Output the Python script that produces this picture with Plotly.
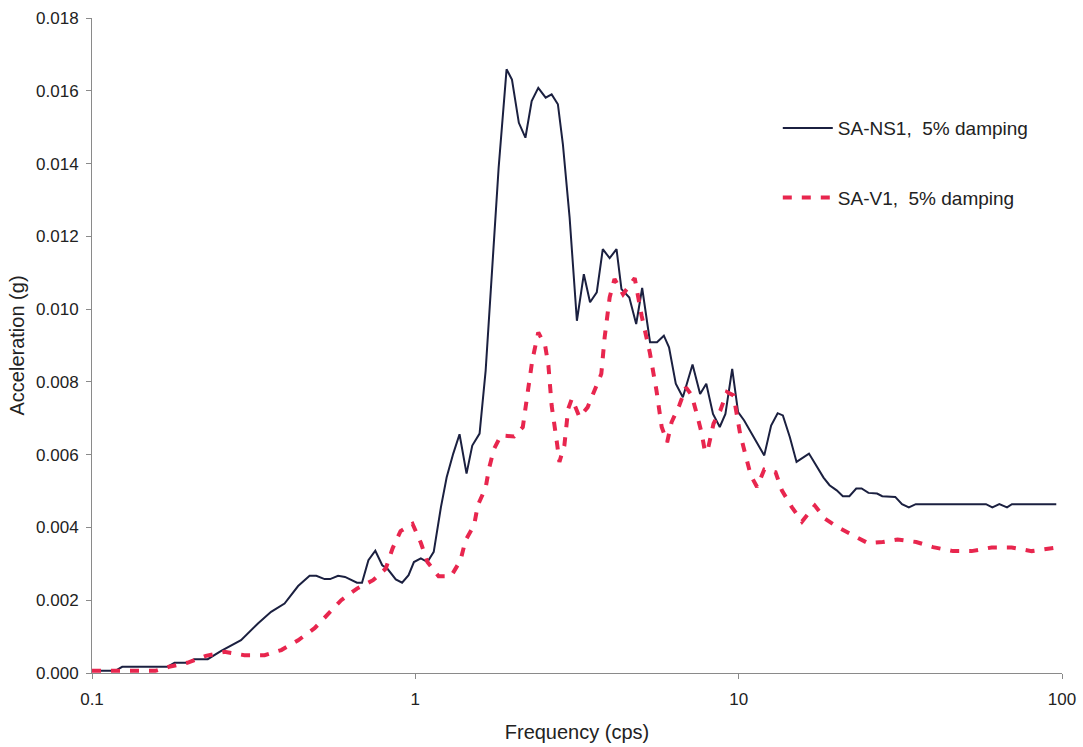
import plotly.graph_objects as go

# SA-NS1, 5% damping
ns_freq = [0.1, 0.118, 0.124, 0.171, 0.18, 0.197, 0.207, 0.228, 0.251, 0.289,
           0.326, 0.358, 0.394, 0.434, 0.471, 0.494, 0.524, 0.545, 0.577, 0.606,
           0.66, 0.684, 0.716, 0.752, 0.79, 0.819, 0.87, 0.91, 0.953, 0.99,
           1.04, 1.09, 1.14, 1.2, 1.25, 1.31, 1.37, 1.44, 1.5, 1.58,
           1.65, 1.73, 1.81, 1.915, 1.99, 2.09, 2.19, 2.29, 2.40, 2.53,
           2.64, 2.76, 2.86, 3.0, 3.16, 3.32, 3.47, 3.64, 3.8, 3.99,
           4.19, 4.34, 4.59, 4.82, 5.03, 5.32, 5.59, 5.87, 6.09, 6.39,
           6.72, 7.2, 7.6, 7.94, 8.33, 8.74, 9.1, 9.55, 9.96, 10.4,
           11.4, 12.0, 12.6, 13.2, 13.7, 14.4, 15.1, 16.5, 18.3, 19.1,
           20.1, 21.0, 22.0, 23.1, 24.0, 25.2, 26.8, 27.8, 30.5, 32.0,
           33.6, 35.3, 58.2, 60.9, 64.0, 67.6, 70.0, 96.0]
ns_acc = [0.00006, 0.00006, 0.00017, 0.00017, 0.00028, 0.00028, 0.00038, 0.00038, 0.00061, 0.0009,
          0.00136, 0.00168, 0.00191, 0.00239, 0.00267, 0.00267, 0.00258, 0.00258, 0.00267, 0.00264,
          0.00248, 0.00248, 0.0031, 0.00336, 0.00296, 0.00287, 0.00257, 0.00248, 0.00269, 0.00305,
          0.00315, 0.00305, 0.00333, 0.00456, 0.00538, 0.00603, 0.00656, 0.00548, 0.00625, 0.00658,
          0.00831, 0.01114, 0.01389, 0.01659, 0.01631, 0.01512, 0.01471, 0.01572, 0.01608, 0.01581,
          0.0159, 0.01563, 0.01453, 0.01252, 0.00968, 0.01096, 0.01019, 0.01046, 0.01165, 0.0114,
          0.01165, 0.01055, 0.01032, 0.00959, 0.01058, 0.00909, 0.00909, 0.00927, 0.00895, 0.00795,
          0.00758, 0.00848, 0.00767, 0.00795, 0.00712, 0.00676, 0.00712, 0.00836, 0.00717, 0.00694,
          0.00634, 0.00598, 0.0068, 0.00714, 0.00708, 0.00648, 0.0058, 0.00603, 0.00537, 0.00516,
          0.00502, 0.00486, 0.00486, 0.00507, 0.00507, 0.00495, 0.00493, 0.00486, 0.00484, 0.00464,
          0.00455, 0.00464, 0.00464, 0.00455, 0.00464, 0.00455, 0.00464, 0.00464]

# SA-V1, 5% damping
v_freq = [0.1, 0.117, 0.157, 0.173, 0.197, 0.225, 0.257, 0.296, 0.342, 0.385,
          0.434, 0.488, 0.531, 0.59, 0.66, 0.74, 0.81, 0.85, 0.90, 0.98,
          1.04, 1.09, 1.18, 1.29, 1.38, 1.43, 1.52, 1.56, 1.65, 1.69,
          1.75, 1.84, 2.02, 2.15, 2.23, 2.30, 2.40, 2.52, 2.58, 2.64,
          2.74, 2.79, 2.89, 2.97, 3.05, 3.22, 3.41, 3.54, 3.76, 3.85,
          3.99, 4.13, 4.39, 4.77, 5.01, 5.31, 5.57, 5.78, 6.01, 6.20,
          6.55, 6.87, 7.16, 7.42, 7.69, 7.87, 8.06, 8.36, 8.77, 9.2,
          9.64, 10.1, 10.5, 10.9, 11.4, 12.0, 13.0, 13.6, 14.6, 15.7,
          17.2, 18.5, 20.4, 22.8, 25.1, 27.9, 31.0, 35.4, 39.9, 46.0,
          52.5, 60.6, 69.9, 80.6, 96.0]
v_acc = [0.00006, 0.00006, 0.00006, 0.00017, 0.00028, 0.00047, 0.00058, 0.00049, 0.00049, 0.00063,
         0.0009, 0.00123, 0.00159, 0.002, 0.00232, 0.00255, 0.00287, 0.00342, 0.0039, 0.0041,
         0.00358, 0.00305, 0.00266, 0.00266, 0.0031, 0.00365, 0.00406, 0.00461, 0.00509, 0.00562,
         0.00615, 0.00653, 0.0065, 0.00676, 0.00776, 0.00859, 0.00936, 0.009, 0.00845, 0.00735,
         0.00634, 0.0058, 0.00625, 0.00726, 0.00754, 0.00703, 0.0073, 0.00767, 0.00822, 0.00922,
         0.01032, 0.01083, 0.01041, 0.01085, 0.00982, 0.00881, 0.00776, 0.00676, 0.00634, 0.00689,
         0.00735, 0.00785, 0.00763, 0.00712, 0.00658, 0.00607, 0.00621, 0.00685, 0.00721, 0.00772,
         0.00763, 0.00658, 0.00598, 0.00543, 0.00511, 0.00559, 0.00552, 0.00502, 0.00456, 0.00416,
         0.0046, 0.00424, 0.00399, 0.00378, 0.00357, 0.0036, 0.00367, 0.0036, 0.00346, 0.00335,
         0.00335, 0.00345, 0.00345, 0.00335, 0.00345]

x_ticks = [0.1, 1, 10, 100]
x_tick_text = ["0.1", "1", "10", "100"]
y_ticks = [0, 0.002, 0.004, 0.006, 0.008, 0.010, 0.012, 0.014, 0.016, 0.018]

FONT = "Liberation Sans, Arial, sans-serif"
AXIS_COLOR = "#8a8a8a"

fig = go.Figure()
fig.add_trace(go.Scatter(
    x=ns_freq, y=ns_acc, mode="lines", name="SA-NS1,  5% damping",
    line=dict(color="#1b2040", width=2), legendgroup="a"))
fig.add_trace(go.Scatter(
    x=v_freq, y=v_acc, mode="lines", name="SA-V1,  5% damping",
    line=dict(color="#e8264e", width=4, dash="9px,10px"), legendgroup="b"))

fig.update_layout(
    width=1083, height=747,
    margin=dict(l=92, r=21, t=18, b=74),
    paper_bgcolor="white", plot_bgcolor="white",
    font=dict(family=FONT, size=17, color="#222222"),
    showlegend=True,
    legend=dict(x=0.707, y=0.861, xanchor="left", yanchor="top",
                bgcolor="rgba(0,0,0,0)", font=dict(size=19, color="#222222"),
                tracegroupgap=42, itemwidth=50),
)
fig.update_xaxes(
    type="log", range=[-1, 2], tickvals=x_ticks, ticktext=x_tick_text,
    showgrid=False, zeroline=False, showline=True, linecolor=AXIS_COLOR, linewidth=1,
    ticks="outside", ticklen=5, tickcolor=AXIS_COLOR, ticklabelstandoff=6,
    automargin=False,
    title=dict(text="Frequency (cps)", font=dict(size=20), standoff=16),
)
fig.update_yaxes(
    range=[0, 0.018], tickvals=y_ticks, tickformat=".3f",
    showgrid=False, zeroline=False, showline=True, linecolor=AXIS_COLOR, linewidth=1,
    ticks="outside", ticklen=5, tickcolor=AXIS_COLOR, ticklabelstandoff=4,
    automargin=False,
    title=dict(text="Acceleration (g)", font=dict(size=20), standoff=6),
)

fig.write_html("out.html", config={"displayModeBar": False},
               post_script="document.body.style.margin='0';")
